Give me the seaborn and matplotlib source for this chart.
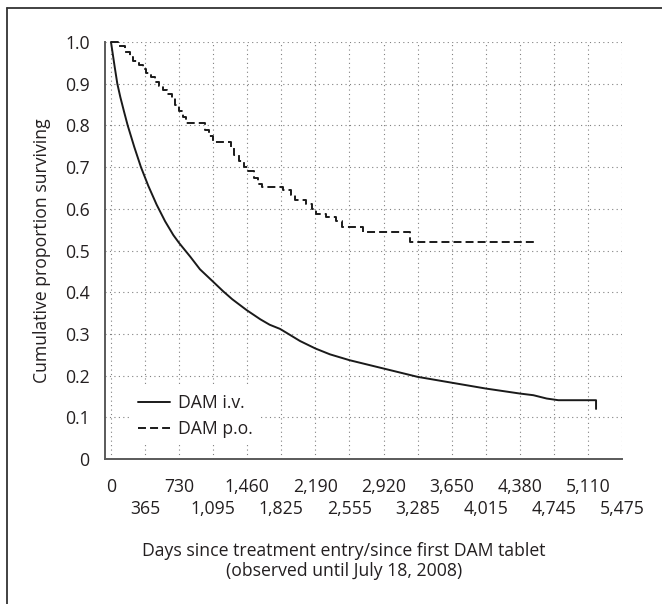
import matplotlib
matplotlib.use("Agg")
import matplotlib.pyplot as plt
from matplotlib.lines import Line2D
import seaborn as sns

# DAM i.v. (solid curve)
iv_days = [0, 20, 40, 68, 100, 140, 179, 250, 321, 400, 489, 580, 668, 730, 850,
           953, 1095, 1203, 1300, 1454, 1600, 1700, 1811, 1900, 2025, 2190, 2346,
           2555, 2920, 3285, 3650, 4015, 4380, 4525, 4668, 4793, 5197, 5197]
iv_surv = [1.0, 0.97, 0.94, 0.90, 0.868, 0.833, 0.80, 0.748, 0.70, 0.655, 0.61,
           0.57, 0.537, 0.518, 0.485, 0.455, 0.425, 0.402, 0.383, 0.357, 0.335,
           0.322, 0.312, 0.30, 0.283, 0.265, 0.251, 0.237, 0.217, 0.197, 0.183,
           0.169, 0.157, 0.153, 0.145, 0.141, 0.141, 0.12]

# DAM p.o. (dashed step curve)
po_days = [0, 75, 150, 200, 240, 300, 340, 380, 430, 470, 510, 560, 600, 650, 690,
           730, 770, 800, 1010, 1050, 1090, 1290, 1320, 1370, 1420, 1470, 1530,
           1580, 1620, 1840, 1930, 1970, 2090, 2150, 2200, 2300, 2410, 2480, 2700,
           3200, 4565]
po_surv = [1.0, 0.99, 0.977, 0.965, 0.955, 0.945, 0.935, 0.925, 0.915, 0.905, 0.895,
           0.885, 0.875, 0.865, 0.85, 0.835, 0.82, 0.805, 0.79, 0.775, 0.76, 0.745,
           0.73, 0.715, 0.70, 0.69, 0.675, 0.66, 0.652, 0.645, 0.633, 0.62, 0.612,
           0.60, 0.588, 0.58, 0.57, 0.557, 0.545, 0.521, 0.521]

x_top_ticks = [0, 730, 1460, 2190, 2920, 3650, 4380, 5110]
x_top_labels = ["0", "730", "1,460", "2,190", "2,920", "3,650", "4,380", "5,110"]
x_bottom_ticks = [365, 1095, 1825, 2555, 3285, 4015, 4745, 5475]
x_bottom_labels = ["365", "1,095", "1,825", "2,555", "3,285", "4,015", "4,745", "5,475"]
y_ticks = [0, 0.1, 0.2, 0.3, 0.4, 0.5, 0.6, 0.7, 0.8, 0.9, 1.0]
y_labels = ["0", "0.1", "0.2", "0.3", "0.4", "0.5", "0.6", "0.7", "0.8", "0.9", "1.0"]

sns.set_style("white")
plt.rcParams["font.family"] = ["Open Sans", "DejaVu Sans"]
fs = 12.7
txt = "#231f20"
axc = "#5a5a5a"

fig = plt.figure(figsize=(6.62, 6.04), dpi=100)
ax = fig.add_axes([105 / 662, 1 - 459 / 604, 517 / 662, 417 / 604])

sns.lineplot(x=iv_days, y=iv_surv, ax=ax, estimator=None, sort=False,
             color="#1a1a1a", lw=1.4, label="DAM i.v.", clip_on=False)
sns.lineplot(x=po_days, y=po_surv, ax=ax, estimator=None, sort=False,
             drawstyle="steps-post", color="#1a1a1a", lw=1.4,
             linestyle=(0, (4.1, 2.1)), label="DAM p.o.", clip_on=False)

ax.set_xlim(-64, 5475)
ax.set_ylim(0, 1.0)
ax.set_xticks(x_top_ticks, x_top_labels)
ax.set_xticks(x_bottom_ticks, x_bottom_labels, minor=True)
ax.set_yticks(y_ticks, y_labels)

ax.tick_params(axis="both", which="both", direction="out", length=6, width=1.2,
               color=axc, labelcolor=txt, labelsize=fs)
ax.tick_params(axis="x", which="major", pad=8)
ax.tick_params(axis="x", which="minor", pad=23.5)
ax.tick_params(axis="y", pad=5)

ax.grid(True, which="both", color="#808080", linestyle=(0, (1, 3)), lw=0.8)
ax.set_axisbelow(True)

for side in ["top", "right"]:
    ax.spines[side].set_visible(False)
for side in ["left", "bottom"]:
    ax.spines[side].set_color(axc)
    ax.spines[side].set_linewidth(1.4)

ax.set_xlabel("Days since treatment entry/since first DAM tablet\n(observed until July 18, 2008)",
              fontsize=fs, color=txt, linespacing=1.15)
ax.xaxis.set_label_coords(0.462, -0.198)
ax.set_ylabel("Cumulative proportion surviving", fontsize=fs, color=txt)
ax.yaxis.set_label_coords(-0.104, 0.5)

ax.legend(loc="center left", bbox_to_anchor=(0.05, 0.102), frameon=True,
          facecolor="white", edgecolor="none", framealpha=1, fancybox=False,
          handlelength=1.8, handletextpad=0.5, labelspacing=0.45,
          borderaxespad=0, borderpad=0.4, fontsize=fs, labelcolor=txt)

# outer frame (only left and top edges are visible)
fx = 7 / 662
fy = 1 - 8 / 604
fig.add_artist(Line2D([fx, fx], [0, fy], transform=fig.transFigure, color="#333333", lw=1.3))
fig.add_artist(Line2D([fx, 1], [fy, fy], transform=fig.transFigure, color="#333333", lw=1.3))

fig.savefig("out.png", dpi=100)
